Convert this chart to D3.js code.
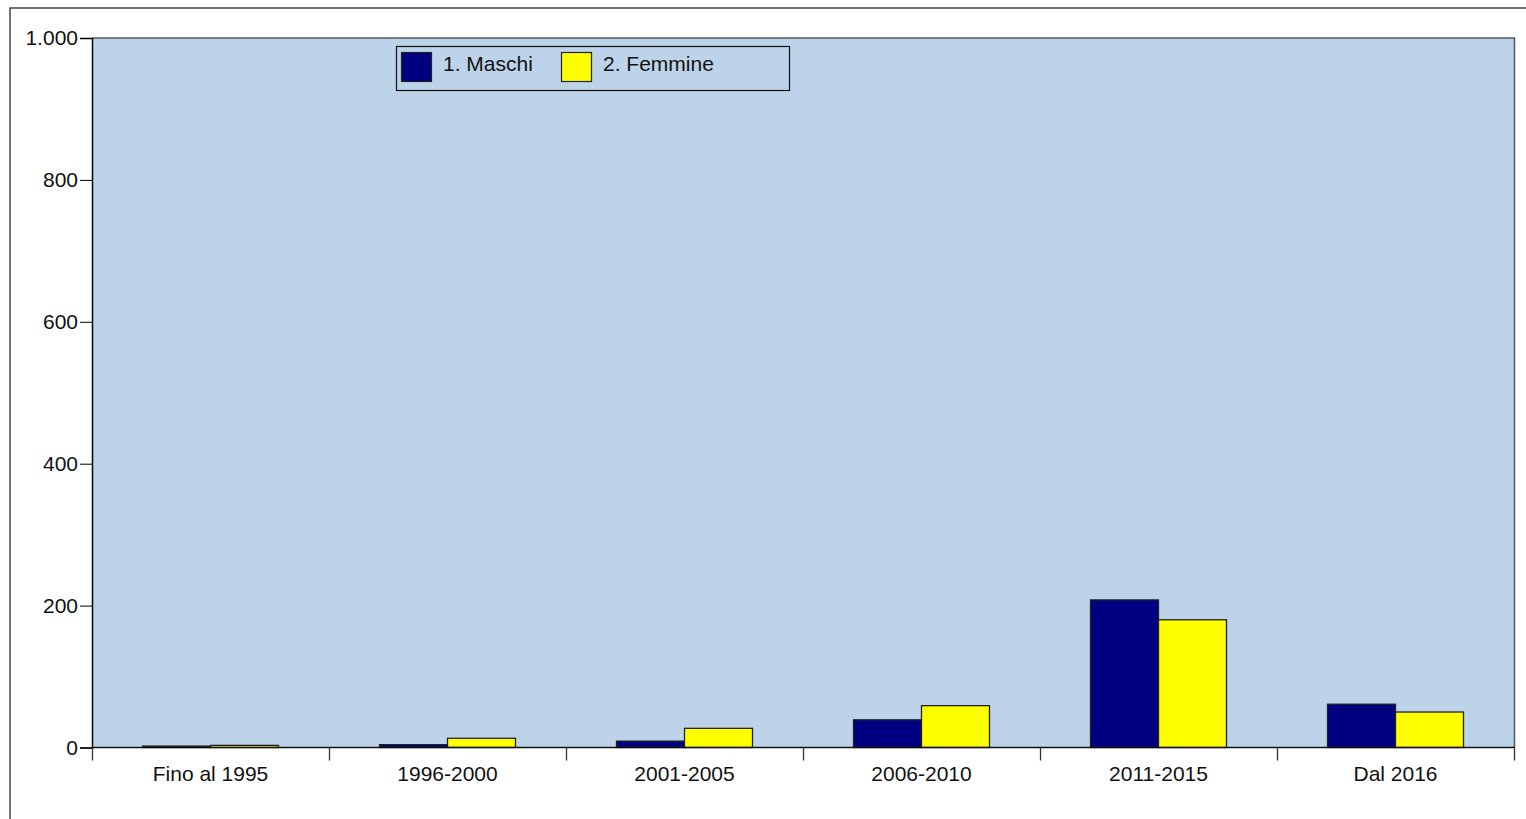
<!DOCTYPE html>
<html><head><meta charset="utf-8">
<script src="https://cdn.jsdelivr.net/npm/d3@7"></script>
<style>
html,body{margin:0;padding:0;background:#fff;}
svg{display:block;font-family:"Liberation Sans",Arial,sans-serif;}
</style></head>
<body>
<svg id="chart" width="1526" height="819"></svg>
<script>
const categories = ["Fino al 1995","1996-2000","2001-2005","2006-2010","2011-2015","Dal 2016"];
const seriesNames = ["1. Maschi","2. Femmine"];
const maschi = [2, 4, 9, 39, 208, 61];
const femmine = [3, 13, 27, 59, 180, 50];
const yTicks = [0, 200, 400, 600, 800, 1000];
const colors = ["#000080", "#FFFF00"];

const svg = d3.select("#chart");
const pLeft = 92, pRight = 1514, pTop = 38, pBottom = 747.5;
const FS = 21;

// outer frame
svg.append("rect").attr("x", 10).attr("y", 8).attr("width", 1530).attr("height", 830)
  .attr("fill", "none").attr("stroke", "#444").attr("stroke-width", 1.5);

const x = d3.scaleBand().domain(categories).range([pLeft, pRight]).paddingInner(0).paddingOuter(0);
const inner = d3.scaleBand().domain([0,1]).range([0, x.bandwidth()]).paddingInner(0).paddingOuter(0.743);
const y = d3.scaleLinear().domain([0, 1000]).range([pBottom, pTop]);

// plot background
svg.append("rect").attr("x", pLeft).attr("y", pTop).attr("width", pRight-pLeft).attr("height", pBottom-pTop)
  .attr("fill", "#BDD3E9");
svg.append("line").attr("x1", pRight+0.5).attr("x2", pRight+0.5).attr("y1", pTop).attr("y2", pBottom)
  .attr("stroke", "#555").attr("stroke-width", 1.5);
svg.append("line").attr("x1", pLeft).attr("x2", pRight+1).attr("y1", pTop).attr("y2", pTop)
  .attr("stroke", "#111").attr("stroke-width", 1.2);

// bars
const data = [maschi, femmine];
categories.forEach((c, i) => {
  data.forEach((s, k) => {
    svg.append("rect")
      .attr("x", x(c) + inner(k))
      .attr("y", y(s[i]))
      .attr("width", inner.bandwidth())
      .attr("height", pBottom - y(s[i]))
      .attr("fill", colors[k])
      .attr("stroke", "#222").attr("stroke-width", 1.3);
  });
});

// y axis
const yAxis = svg.append("g").attr("transform", `translate(${pLeft},0)`)
  .call(d3.axisLeft(y).tickValues(yTicks).tickSize(12).tickPadding(2)
    .tickFormat(d => d3.format(",")(d).replace(/,/g, ".")));
yAxis.select(".domain").attr("stroke", "#000").attr("stroke-width", 1.5);
yAxis.selectAll(".tick line").attr("stroke", "#000");
yAxis.selectAll("text").attr("font-size", FS).attr("fill", "#111")
  .style("font-family", "Liberation Sans, Arial, sans-serif");

// x axis
const xAxis = svg.append("g").attr("transform", `translate(0,${pBottom})`);
xAxis.append("line").attr("x1", pLeft).attr("x2", pRight+1).attr("y1", 0).attr("y2", 0)
  .attr("stroke", "#111").attr("stroke-width", 1.5);
const bounds = categories.map(c => x(c)).concat([pRight]);
xAxis.selectAll("line.tk").data(bounds).enter().append("line").attr("class", "tk")
  .attr("x1", d => d+0.5).attr("x2", d => d+0.5).attr("y1", 0).attr("y2", 13)
  .attr("stroke", "#333").attr("stroke-width", 1.3);
xAxis.selectAll("text").data(categories).enter().append("text")
  .attr("x", d => x(d) + x.bandwidth()/2).attr("y", 33.5)
  .attr("text-anchor", "middle").attr("font-size", FS).attr("fill", "#111")
  .text(d => d);

// legend
const lg = svg.append("g");
lg.append("rect").attr("x", 396.5).attr("y", 46.5).attr("width", 393).attr("height", 44)
  .attr("fill", "none").attr("stroke", "#111").attr("stroke-width", 1.2);
const lgX = [401, 561];
seriesNames.forEach((n, k) => {
  lg.append("rect").attr("x", lgX[k]+0.5).attr("y", 52.5).attr("width", 30).attr("height", 29)
    .attr("fill", colors[k]).attr("stroke", "#222").attr("stroke-width", 1.2);
  lg.append("text").attr("x", lgX[k] + 42).attr("y", 71).attr("font-size", FS).attr("fill", "#111")
    .text(n);
});
</script>
</body></html>
